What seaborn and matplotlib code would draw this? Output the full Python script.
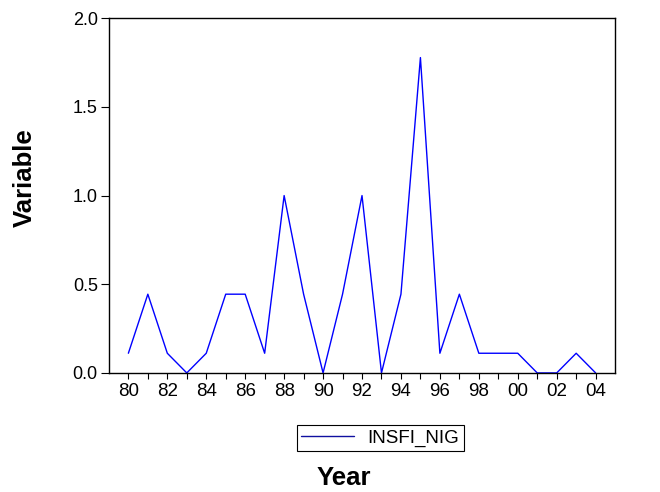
import matplotlib
matplotlib.use("Agg")
import matplotlib.pyplot as plt
from matplotlib.lines import Line2D
import seaborn as sns
import pandas as pd

years = list(range(1980, 2005))
insfi_nig = [0.111, 0.444, 0.111, 0.0, 0.111, 0.444, 0.444, 0.111, 1.0, 0.444,
             0.0, 0.444, 1.0, 0.0, 0.444, 1.778, 0.111, 0.444, 0.111, 0.111,
             0.111, 0.0, 0.0, 0.111, 0.0]
yticks = [0.0, 0.5, 1.0, 1.5, 2.0]
xtick_years = list(range(1980, 2005, 2))
xtick_labels = [f"{y % 100:02d}" for y in xtick_years]

sns.set_theme(style="ticks")
plt.rcParams['font.family'] = ['Liberation Sans', 'DejaVu Sans']
plt.rcParams['text.color'] = 'black'
plt.rcParams['xtick.color'] = 'black'
plt.rcParams['ytick.color'] = 'black'
plt.rcParams['xtick.labelcolor'] = 'black'
plt.rcParams['ytick.labelcolor'] = 'black'

df = pd.DataFrame({"Year": years, "INSFI_NIG": insfi_nig})

fig = plt.figure(figsize=(6.6, 4.92), dpi=100)
ax = fig.add_axes([0.165, 0.242, 0.767, 0.721])
sns.lineplot(data=df, x="Year", y="INSFI_NIG", ax=ax, color="#0000FF", linewidth=1.0, legend=False)

ax.set_xlim(1979, 2005)
ax.set_ylim(0, 2.0)
ax.set_xticks(years, minor=True)
ax.set_xticks(xtick_years)
ax.set_xticklabels(xtick_labels, fontsize=13.5)
ax.set_yticks(yticks)
ax.set_yticklabels([f"{v:.1f}" for v in yticks], fontsize=13)
ax.tick_params(axis='x', which='both', direction='out', length=4, width=0.8, color='black', pad=3)
ax.tick_params(axis='y', direction='out', length=6, width=0.8, color='black', pad=2)
for s in ax.spines.values():
    s.set_visible(True)
    s.set_color('black')
    s.set_linewidth(1.0)
ax.set_xlabel("")
ax.set_ylabel("")

fig.text(0.038, 0.638, "Variable", rotation=90, ha='center', va='center', fontsize=18.5,
         fontweight='bold', color='black')
fig.text(0.521, 0.028, "Year", ha='center', va='center', fontsize=18.5, fontweight='bold', color='black')

handle = Line2D([0], [0], color="#1010A0", linewidth=1.0)
fig.legend([handle], ["INSFI_NIG"], loc='center', bbox_to_anchor=(0.576, 0.110),
           fontsize=13.5, frameon=True, fancybox=False, edgecolor='black', framealpha=1,
           handlelength=2.8, borderpad=0.25, handletextpad=0.7, borderaxespad=0,
           labelcolor='black')
leg = fig.legends[0]
leg.get_frame().set_linewidth(0.8)

fig.savefig("out.png", dpi=100)
